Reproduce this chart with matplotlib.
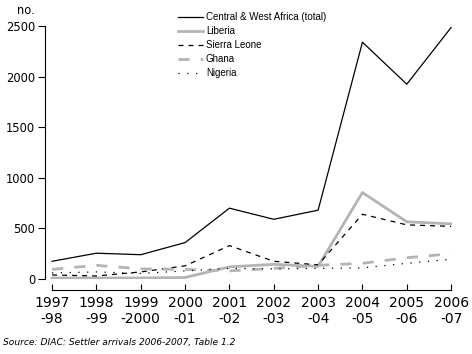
import numpy as np
import matplotlib
matplotlib.use("Agg")
import matplotlib.pyplot as plt

years = ["1997\n-98", "1998\n-99", "1999\n-2000", "2000\n-01", "2001\n-02",
         "2002\n-03", "2003\n-04", "2004\n-05", "2005\n-06", "2006\n-07"]
total = [175, 255, 240, 360, 700, 590, 680, 2340, 1925, 2485]
liberia = [10, 10, 10, 15, 120, 145, 125, 855, 565, 545]
sierra_leone = [40, 30, 70, 130, 330, 175, 140, 640, 535, 520]
ghana = [95, 135, 100, 95, 80, 105, 135, 155, 210, 250]
nigeria = [60, 70, 55, 80, 105, 100, 105, 110, 155, 195]

plt.rcParams['font.family'] = ['DejaVu Sans']
grey = '#b4b4b4'

fig = plt.figure(figsize=(4.72, 3.54), dpi=100)
ax = fig.add_axes([45/472, 1 - 279/354, 407/472, 253/354])
x = np.arange(len(years))

ax.plot(x, total, color='black', lw=0.9, label='Central & West Africa (total)')
ax.plot(x, liberia, color=grey, lw=2.0, label='Liberia')
ax.plot(x, sierra_leone, color='black', lw=0.9, dashes=(4, 4), label='Sierra Leone')
ax.plot(x, ghana, color=grey, lw=2.0, dashes=(4, 4), label='Ghana')
ax.plot(x, nigeria, color='black', lw=0.9, dashes=(1, 6), label='Nigeria')

ax.set_xlim(-0.16, 9.02)
ax.set_ylim(0, 2500)
ax.set_xticks(x)
ax.set_xticklabels(years, fontsize=8.3, linespacing=1.55)
ax.set_yticks([0, 500, 1000, 1500, 2000, 2500])
ax.tick_params(axis='y', direction='out', length=5, width=0.8, labelsize=8.3, pad=2)
ax.tick_params(axis='x', direction='in', length=4, width=0.8, pad=4)

for s in ['top', 'right']:
    ax.spines[s].set_visible(False)
ax.spines['left'].set_bounds(0, 2500)
ax.spines['bottom'].set_position(('outward', 8))
ax.spines['bottom'].set_bounds(0, 9)

ax.text(-0.07, 1.035, 'no.', transform=ax.transAxes, fontsize=8.3, ha='left', va='bottom')

ax.legend(loc='upper left', bbox_to_anchor=(0.315, 1.073), frameon=False,
          prop={'family': 'Liberation Sans', 'size': 7},
          handlelength=2.6, handletextpad=0.25, labelspacing=0.4, borderpad=0)

fig.text(3/472, 1 - 343/354, 'Source: DIAC: Settler arrivals 2006-2007, Table 1.2',
         fontsize=6.6, style='italic', va='center')

fig.savefig('out.png', dpi=100)
